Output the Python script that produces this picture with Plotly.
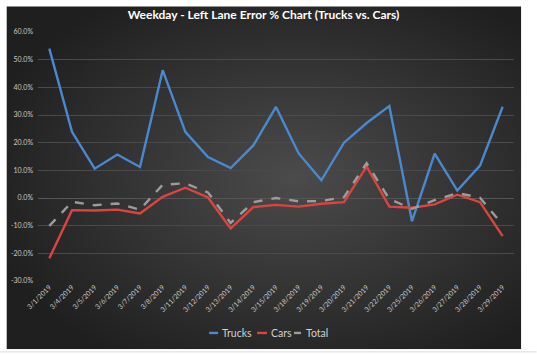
import base64
import plotly.graph_objects as go

dates = ["3/1/2019", "3/4/2019", "3/5/2019", "3/6/2019", "3/7/2019", "3/8/2019", "3/11/2019",
         "3/12/2019", "3/13/2019", "3/14/2019", "3/15/2019", "3/18/2019", "3/19/2019", "3/20/2019",
         "3/21/2019", "3/22/2019", "3/25/2019", "3/26/2019", "3/27/2019", "3/28/2019", "3/29/2019"]
trucks = [54.0, 23.9, 10.6, 15.7, 11.2, 46.2, 23.9, 14.8, 10.8, 19.0, 32.9, 16.1, 6.4, 20.0,
          27.1, 33.2, -8.4, 16.0, 2.7, 11.7, 33.0]
cars = [-21.8, -4.4, -4.5, -4.2, -5.6, 0.4, 3.7, 0.2, -11.0, -3.3, -2.5, -3.1, -2.1, -1.5,
        11.4, -3.1, -3.5, -2.3, 1.2, -1.5, -13.8]
total = [-10.1, -1.4, -2.6, -2.0, -4.2, 4.8, 5.3, 2.0, -9.0, -1.5, 0.0, -1.2, -1.1, 0.3,
         12.6, -0.4, -3.9, -0.8, 1.8, 0.1, -9.7]
y_ticks = [-30, -20, -10, 0, 10, 20, 30, 40, 50, 60]
series_names = ["Trucks", "Cars", "Total"]
series_colors = ["#4a88cf", "#dc4440", "#9c9c9c"]

W, H = 537, 355
L, R, T, B = 37.6, 514.4, 31.7, 281.0

svg = ('<svg xmlns="http://www.w3.org/2000/svg" width="516" height="343" viewBox="0 0 516 343" '
       'preserveAspectRatio="none">'
       '<defs><radialGradient id="g" cx="0.56" cy="0.5" r="0.62">'
       '<stop offset="0" stop-color="#4b4b4b"/><stop offset="1" stop-color="#1f1f1f"/>'
       '</radialGradient></defs><rect width="516" height="343" fill="url(#g)"/></svg>')
src = "data:image/svg+xml;base64," + base64.b64encode(svg.encode()).decode()

def px2x(px):
    return (px - L) / (R - L)

def py2y(py):
    return (B - py) / (B - T)

fig = go.Figure()
for name, vals, col in zip(series_names, [trucks, cars, total], series_colors):
    fig.add_trace(go.Scatter(x=dates, y=vals, name=name, mode="lines",
                             line=dict(color=col, width=2.4,
                                       dash="dash" if name == "Total" else "solid")))

# custom compact legend (Excel style)
legend_y = py2y(333)
leg_lines = [(209, 218), (257, 267), (294, 301)]
leg_text_x = [219.5, 268.5, 304]
shapes = [dict(type="line", xref="paper", yref="paper", x0=px2x(0), x1=px2x(537),
               y0=py2y(352), y1=py2y(352), line=dict(color="#d8d8d8", width=1))]
annotations = []
for (x0, x1), tx, name, col in zip(leg_lines, leg_text_x, series_names, series_colors):
    shapes.append(dict(type="line", xref="paper", yref="paper", x0=px2x(x0), x1=px2x(x1),
                       y0=legend_y, y1=legend_y, line=dict(color=col, width=2.4)))
    annotations.append(dict(text=name, xref="paper", yref="paper", x=px2x(tx), y=legend_y,
                            xanchor="left", yanchor="middle", showarrow=False,
                            font=dict(size=10.5, color="#d0d0d0")))

fig.update_layout(
    width=W, height=H,
    margin=dict(l=L, r=W - R, t=T, b=H - B, autoexpand=False),
    paper_bgcolor="#ffffff",
    plot_bgcolor="rgba(0,0,0,0)",
    font=dict(family="Lato, Liberation Sans, sans-serif", color="#d0d0d0", size=7),
    title=dict(text="<b>Weekday - Left Lane Error % Chart (Trucks vs. Cars)</b>",
               x=px2x(263.5), xref="paper", xanchor="center", y=1 - 15 / H, yanchor="middle",
               font=dict(size=12, color="#ffffff", family="Lato, Liberation Sans, sans-serif")),
    images=[dict(source=src, xref="paper", yref="paper", x=px2x(6), y=py2y(6),
                 sizex=px2x(521.7) - px2x(6), sizey=py2y(6) - py2y(349.3),
                 xanchor="left", yanchor="top", sizing="stretch", layer="below")],
    shapes=shapes,
    annotations=annotations,
    xaxis=dict(type="category", tickangle=-45, showgrid=False, zeroline=False,
               showline=False, ticks="", tickfont=dict(size=7, color="#c8c8c8"),
               range=[-0.5, len(dates) - 0.5]),
    yaxis=dict(range=[-30, 60], tickvals=y_ticks,
               ticktext=[f"{v:.1f}%" for v in y_ticks],
               showgrid=True, gridcolor="#4a4a4a", gridwidth=1,
               zeroline=True, zerolinecolor="#555555", zerolinewidth=1,
               showline=False, ticks="", ticklabelstandoff=4,
               tickfont=dict(size=7, color="#c8c8c8")),
    showlegend=False,
)

fig.write_html("out.html", config={"displayModeBar": False},
               post_script="document.body.style.margin='0';document.body.style.overflow='hidden';")
